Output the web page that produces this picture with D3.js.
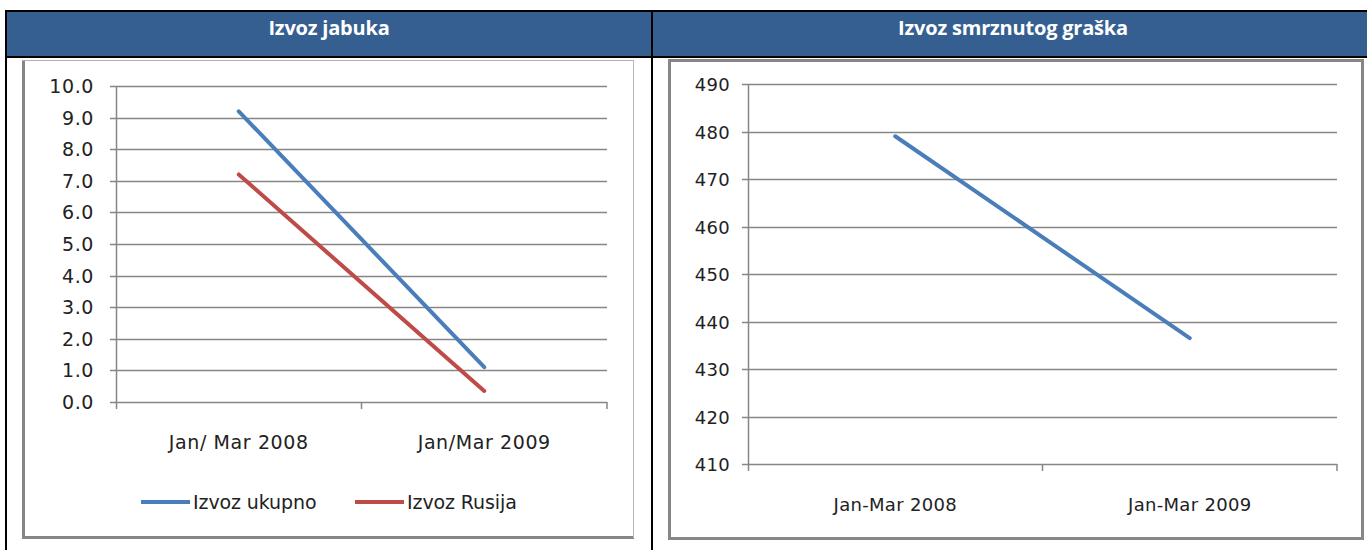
<!DOCTYPE html>
<html>
<head>
<meta charset="utf-8">
<script src="https://cdn.jsdelivr.net/npm/d3@7"></script>
<style>
  body { margin: 0; background: #fff; }
  svg { display: block; }
</style>
</head>
<body>
<svg id="canvas"></svg>
<script>
const W = 1367, H = 550;

// DATA
const titles = ['Izvoz jabuka', 'Izvoz smrznutog graška'];

const appleCategories = ['Jan/ Mar 2008', 'Jan/Mar 2009'];
const appleTotal = [9.2, 1.1];
const appleRussia = [7.2, 0.35];
const appleSeriesNames = ['Izvoz ukupno', 'Izvoz Rusija'];
const appleTicks = [0, 1, 2, 3, 4, 5, 6, 7, 8, 9, 10];

const peaCategories = ['Jan-Mar 2008', 'Jan-Mar 2009'];
const peaValues = [479, 436.5];
const peaTicks = [410, 420, 430, 440, 450, 460, 470, 480, 490];

const blue = '#4a7ebb';
const red = '#be4b48';
const gridColor = '#868686';

const svg = d3.select('#canvas').attr('width', W).attr('height', H);

svg.append('rect').attr('width', W).attr('height', H).attr('fill', '#fff');

// TABLE HEADER
svg.append('rect')
    .attr('x', 6).attr('y', 11)
    .attr('width', W - 6).attr('height', 46)
    .attr('fill', '#365f91');

const black = (x1, y1, x2, y2) => svg.append('line')
    .attr('x1', x1).attr('y1', y1).attr('x2', x2).attr('y2', y2)
    .attr('stroke', '#000').attr('stroke-width', 2);

black(5, 11, W, 11);
black(5, 57, W, 57);
black(6, 10, 6, H);
black(652, 10, 652, H);

svg.selectAll('.title')
    .data(titles)
    .enter().append('text')
    .attr('x', (d, i) => i === 0 ? 329 : 1013)
    .attr('y', 35)
    .attr('text-anchor', 'middle')
    .attr('fill', '#fff')
    .style('font-family', '"Open Sans", sans-serif')
    .style('font-weight', 'bold')
    .style('font-size', '20px')
    .style('letter-spacing', '-0.2px')
    .text(d => d);

// CHART FRAMES
const frame = (x1, y1, x2, y2, color, w) => svg.append('line')
    .attr('x1', x1).attr('y1', y1).attr('x2', x2).attr('y2', y2)
    .attr('stroke', color).attr('stroke-width', w);

frame(23.5, 60, 23.5, 538, gridColor, 3);
frame(22, 537.5, 634, 537.5, gridColor, 3);
frame(22, 60.5, 634, 60.5, '#b0b0b0', 1);
frame(633.5, 60, 633.5, 538, '#b8b8b8', 1);

svg.append('rect')
    .attr('x', 669.5).attr('y', 60.5).attr('width', 693).attr('height', 478)
    .attr('fill', 'none').attr('stroke', gridColor).attr('stroke-width', 3);

// DRAW ONE LINE CHART
function drawChart(opts) {
    const g = svg.append('g');
    const x = d3.scaleBand().domain(opts.categories).range([opts.left, opts.right]);
    const y = d3.scaleLinear().domain(opts.domain).range([opts.bottom, opts.top]);

    // gridlines
    g.selectAll('.grid')
        .data(opts.ticks)
        .enter().append('line')
        .attr('x1', opts.left - 6).attr('x2', opts.right)
        .attr('y1', d => Math.round(y(d)) + 0.5).attr('y2', d => Math.round(y(d)) + 0.5)
        .attr('stroke', gridColor).attr('stroke-width', 1.3);

    // y axis
    g.append('line')
        .attr('x1', opts.left + 0.5).attr('x2', opts.left + 0.5)
        .attr('y1', opts.top).attr('y2', opts.bottom + 7)
        .attr('stroke', gridColor).attr('stroke-width', 1.5);

    // x ticks at category boundaries
    const bounds = opts.categories.map(c => x(c)).concat([opts.right]);
    g.selectAll('.xtick')
        .data(bounds.slice(1))
        .enter().append('line')
        .attr('x1', d => d).attr('x2', d => d)
        .attr('y1', opts.bottom).attr('y2', opts.bottom + 7)
        .attr('stroke', gridColor).attr('stroke-width', 1.5);

    // y labels
    g.selectAll('.ylabel')
        .data(opts.ticks)
        .enter().append('text')
        .attr('x', opts.left - opts.labelGap)
        .attr('y', d => y(d) + 7)
        .attr('text-anchor', 'end')
        .attr('fill', '#222')
        .style('font-family', opts.font)
        .style('font-size', opts.fontSize)
        .style('letter-spacing', opts.spacing)
        .text(opts.format);

    // x labels
    g.selectAll('.xlabel')
        .data(opts.categories)
        .enter().append('text')
        .attr('x', d => x(d) + x.bandwidth() / 2)
        .attr('y', opts.bottom + 47)
        .attr('text-anchor', 'middle')
        .attr('fill', '#222')
        .style('font-family', opts.font)
        .style('font-size', opts.fontSize)
        .style('letter-spacing', opts.spacing)
        .text(d => d);

    const line = d3.line()
        .x((d, i) => x(opts.categories[i]) + x.bandwidth() / 2)
        .y(d => y(d));

    opts.series.forEach(s => {
        g.append('path')
            .datum(s.values)
            .attr('d', line)
            .attr('fill', 'none')
            .attr('stroke', s.color)
            .attr('stroke-width', 4)
            .attr('stroke-linecap', 'round');
    });
    return { g, x, y };
}

drawChart({
    categories: appleCategories,
    domain: [0, 10],
    ticks: appleTicks,
    left: 116, right: 607, top: 86, bottom: 402,
    font: '"DejaVu Sans", sans-serif',
    fontSize: '19px',
    spacing: '0.6px',
    labelGap: 22,
    format: d3.format('.1f'),
    series: [
        { values: appleTotal, color: blue },
        { values: appleRussia, color: red }
    ]
});

drawChart({
    categories: peaCategories,
    domain: [410, 490],
    ticks: peaTicks,
    left: 748, right: 1337, top: 84, bottom: 464,
    font: '"DejaVu Sans", sans-serif',
    fontSize: '18px',
    spacing: '0.3px',
    labelGap: 18,
    format: d3.format('d'),
    series: [
        { values: peaValues, color: blue }
    ]
});

// LEGEND (apple chart)
const legend = svg.append('g');
const legendItems = [
    { name: appleSeriesNames[0], color: blue, x: 141 },
    { name: appleSeriesNames[1], color: red, x: 355 }
];
legendItems.forEach(d => {
    legend.append('line')
        .attr('x1', d.x).attr('x2', d.x + 49)
        .attr('y1', 502).attr('y2', 502)
        .attr('stroke', d.color).attr('stroke-width', 4);
    legend.append('text')
        .attr('x', d.x + 52)
        .attr('y', 509)
        .attr('fill', '#222')
        .style('font-family', '"DejaVu Sans", sans-serif')
        .style('font-size', '19px')
        .style('letter-spacing', '-0.1px')
        .text(d.name);
});
</script>
</body>
</html>
